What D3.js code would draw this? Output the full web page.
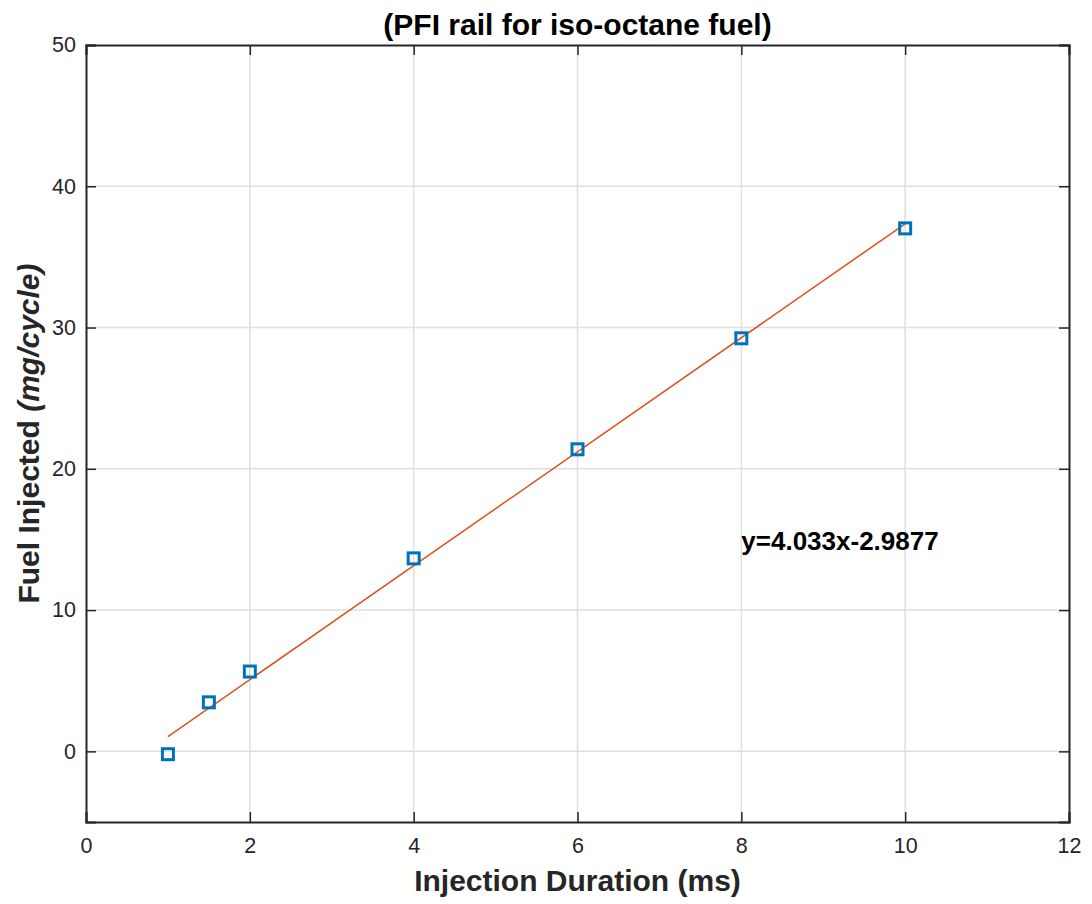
<!DOCTYPE html>
<html>
<head>
<meta charset="utf-8">
<script src="https://cdn.jsdelivr.net/npm/d3@7"></script>
<style>
  body { margin: 0; background: #fff; }
  svg text { font-family: "Liberation Sans", Arial, Helvetica, sans-serif; }
</style>
</head>
<body>
<svg id="chart" width="1092" height="904"></svg>
<script>
// measured points (injection duration ms, fuel mg/cycle)
const durations = [1, 1.5, 2, 4, 6, 8, 10];
const fuelMass = [-0.2, 3.47, 5.65, 13.66, 21.38, 29.24, 37.02];
// linear fit
const fitSlope = 4.033;
const fitIntercept = -2.9877;
const fitRange = [1, 10];
const xTicks = [0, 2, 4, 6, 8, 10, 12];
const yTicks = [0, 10, 20, 30, 40, 50];

const margin = { top: 45, right: 23, bottom: 82, left: 86 };
const W = 1092, H = 904;
const w = W - margin.left - margin.right;
const h = H - margin.top - margin.bottom;

const svg = d3.select("#chart");
const g = svg.append("g").attr("transform", `translate(${margin.left},${margin.top})`);

const x = d3.scaleLinear().domain([0, 12]).range([0, w]);
const y = d3.scaleLinear().domain([-5, 50]).range([h, 0]);

// grid
g.append("g").selectAll("line").data(xTicks.slice(1, -1)).join("line")
  .attr("x1", d => x(d)).attr("x2", d => x(d)).attr("y1", 0).attr("y2", h)
  .attr("stroke", "#dfdfdf").attr("stroke-width", 1.5);
g.append("g").selectAll("line").data(yTicks.slice(0, -1)).join("line")
  .attr("y1", d => y(d)).attr("y2", d => y(d)).attr("x1", 0).attr("x2", w)
  .attr("stroke", "#dfdfdf").attr("stroke-width", 1.5);

// axes (ticks point inward, like matlab)
const tickLen = 10;
const xAxis = g.append("g").attr("transform", `translate(0,${h})`)
  .call(d3.axisBottom(x).tickValues(xTicks).tickSize(-tickLen).tickPadding(16));
const yAxis = g.append("g")
  .call(d3.axisLeft(y).tickValues(yTicks).tickSize(-tickLen).tickPadding(10));
const xTop = g.append("g").call(d3.axisTop(x).tickValues(xTicks).tickSize(-tickLen).tickFormat(""));
const yRight = g.append("g").attr("transform", `translate(${w},0)`)
  .call(d3.axisRight(y).tickValues(yTicks).tickSize(-tickLen).tickFormat(""));

[xAxis, yAxis, xTop, yRight].forEach(a => {
  a.selectAll("path").attr("stroke", "#262626").attr("stroke-width", 2);
  a.selectAll("line").attr("stroke", "#262626").attr("stroke-width", 1.5);
  a.selectAll("text").attr("fill", "#262626").style("font-size", "21.5px")
    .style("font-family", "'Liberation Sans', Arial, sans-serif");
});

// fit line
const fitLine = d3.line().x(d => x(d)).y(d => y(fitSlope * d + fitIntercept));
g.append("path").datum(fitRange)
  .attr("d", fitLine)
  .attr("fill", "none")
  .attr("stroke", "#D95319")
  .attr("stroke-width", 1.5);

// markers
const ms = 11;
g.append("g").selectAll("rect").data(durations).join("rect")
  .attr("x", (d) => x(d) - ms / 2)
  .attr("y", (d, i) => y(fuelMass[i]) - ms / 2)
  .attr("width", ms).attr("height", ms)
  .attr("fill", "none")
  .attr("stroke", "#0072BD")
  .attr("stroke-width", 3);

// equation text
g.append("text")
  .attr("x", x(8)).attr("y", y(14.9))
  .attr("dy", "0.35em")
  .style("font-size", "26px").style("font-weight", "bold")
  .attr("fill", "#000")
  .text(`y=${fitSlope}x${fitIntercept}`);

// title
svg.append("text")
  .attr("x", margin.left + w / 2).attr("y", 35)
  .attr("text-anchor", "middle")
  .style("font-size", "30px").style("font-weight", "bold")
  .text("(PFI rail for iso-octane fuel)");

// x label
svg.append("text")
  .attr("x", margin.left + w / 2).attr("y", 891)
  .attr("text-anchor", "middle")
  .style("font-size", "30px").style("font-weight", "bold")
  .attr("fill", "#262626")
  .text("Injection Duration (ms)");

// y label
const yl = svg.append("text")
  .attr("transform", `translate(39,${margin.top + h / 2}) rotate(-90)`)
  .attr("text-anchor", "middle")
  .style("font-size", "30px").style("font-weight", "bold")
  .attr("fill", "#262626");
yl.append("tspan").text("Fuel Injected ");
yl.append("tspan").style("font-style", "italic").text("(mg/cycle)");
</script>
</body>
</html>
